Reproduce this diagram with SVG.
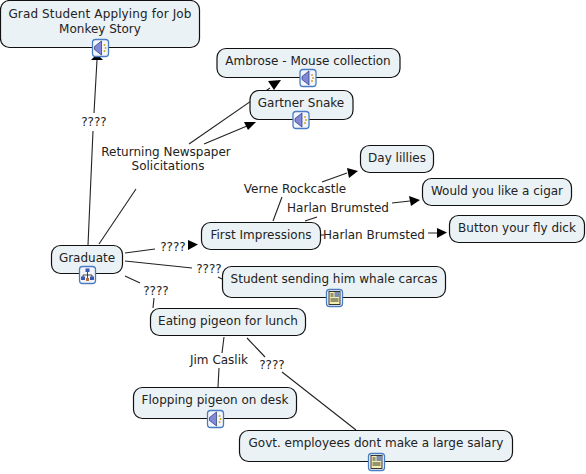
<svg xmlns="http://www.w3.org/2000/svg" width="586" height="474" viewBox="0 0 586 474">
<style>
text{font-family:"DejaVu Sans",Verdana,sans-serif;font-size:12px;fill:#222;text-anchor:middle}
.n{fill:#ebf2f5;stroke:#111;stroke-width:1.2}
.c{fill:none;stroke:#222;stroke-width:1.1}
.a{fill:#000}
.ib{fill:#f2f6fc;stroke:#4a7cc4;stroke-width:1.3}
</style>
<defs>
<g id="snd"><rect class="ib" x="-8" y="-8.500" width="16" height="17" rx="3"/><path d="M-6-1.500L1-7V7L-6 1.500Z" fill="#8088d8" stroke="#2a3270" stroke-width=".7"/><path d="M4-4v2M5-1v2M4 2v2" stroke="#d8a820" stroke-width="1.5" fill="none"/></g>
<g id="doc"><rect class="ib" x="-8" y="-8.500" width="16" height="17" rx="3"/><rect x="-5.500" y="-6.500" width="11" height="13" fill="#f4eeb0" stroke="#222" stroke-width=".9"/><rect x="0" y="-6" width="5" height="5" fill="#7a8cb0"/><path d="M-4-4H-1M-4-2H-1M-4 1H4M-4 3H4" stroke="#222" stroke-width=".9"/></g>
<g id="map"><rect class="ib" x="-8" y="-8.500" width="16" height="17" rx="3"/><path d="M0-4V5M-4.500 3V0H4.500V3" stroke="#222" fill="none" stroke-width=".8"/><rect x="-2" y="-6.500" width="4" height="3.500" fill="#3a58b0"/><rect x="-6.500" y="1.500" width="4" height="3.500" fill="#3a58b0"/><rect x="2.500" y="1.500" width="4" height="3.500" fill="#3a58b0"/><rect x="-1.500" y="3" width="3" height="3" fill="#c06a3a"/></g>
</defs>
<g id="connectors">
<path class="c" d="M88 245L93 131M94 113L97 60"/>
<path class="c" d="M99 244L136 189"/>
<path class="c" d="M189 144L270 88"/>
<path class="c" d="M204 144L247 126"/>
<path class="c" d="M125 253L155 249"/>
<path class="c" d="M125 261L192 268M218 277L222 279"/>
<path class="c" d="M125 276L140 283M154 298L153 308"/>
<path class="c" d="M273 221L282 197M322 182L347 173"/>
<path class="c" d="M305 221L317 217M392 203L410 201"/>
<path class="c" d="M320 235L324 235M428 233L437 233"/>
<path class="c" d="M224 337L222 353M219 368L218 387"/>
<path class="c" d="M247 338L265 357M282 372L356 430"/>
<path class="a" d="M91 60H103L97 54Z"/>
<path class="a" d="M281 80L268 81L274 90Z"/>
<path class="a" d="M256 122L244 122L248 130Z"/>
<path class="a" d="M198 244.500L188 240V250Z"/>
<path class="a" d="M358 171L347 168L349 178Z"/>
<path class="a" d="M420 200L409 196L411 206Z"/>
<path class="a" d="M447 232.500L437 228V238Z"/>
</g>
<g id="grad-student"><rect class="n" x="0.500" y="0.500" width="199" height="47" rx="9"/><text x="100" y="18" style="letter-spacing:.14px">Grad Student Applying for Job</text><text x="100" y="33">Monkey Story</text><use href="#snd" x="100.500" y="48"/></g>
<g id="ambrose"><rect class="n" x="217" y="48.500" width="183" height="29" rx="9"/><text x="308" y="65">Ambrose - Mouse collection</text><use href="#snd" x="308" y="78"/></g>
<g id="gartner"><rect class="n" x="250" y="90.500" width="103" height="29" rx="9"/><text x="301" y="107">Gartner Snake</text><use href="#snd" x="301" y="120"/></g>
<g id="day"><rect class="n" x="360.500" y="145.500" width="73" height="27" rx="9"/><text x="397" y="162">Day lillies</text></g>
<g id="cigar"><rect class="n" x="422.500" y="178.500" width="149" height="27" rx="9"/><text x="497" y="195">Would you like a cigar</text></g>
<g id="button"><rect class="n" x="449.500" y="215.500" width="135" height="27" rx="9"/><text x="517" y="232">Button your fly dick</text></g>
<g id="first"><rect class="n" x="201.500" y="222.500" width="119" height="27" rx="9"/><text x="261" y="239">First Impressions</text></g>
<g id="graduate"><rect class="n" x="51.500" y="245.500" width="71" height="28" rx="9"/><text x="87" y="262">Graduate</text><use href="#map" x="87.500" y="275"/></g>
<g id="whale"><rect class="n" x="222.500" y="266.500" width="223" height="31" rx="9"/><text x="334" y="283">Student sending him whale carcas</text><use href="#doc" x="334.500" y="298"/></g>
<g id="pigeon"><rect class="n" x="150.500" y="308.500" width="155" height="27" rx="9"/><text x="228" y="325">Eating pigeon for lunch</text></g>
<g id="flopping"><rect class="n" x="133.500" y="387.500" width="163" height="31" rx="9"/><text x="215" y="404">Flopping pigeon on desk</text><use href="#snd" x="215.500" y="419"/></g>
<g id="govt"><rect class="n" x="239.500" y="430.500" width="273" height="31" rx="9"/><text x="376" y="447">Govt. employees dont make a large salary</text><use href="#doc" x="376.500" y="462"/></g>
<g id="labels">
<text x="94" y="126">????</text>
<text x="166" y="156">Returning Newspaper</text>
<text x="168" y="170">Solicitations</text>
<text x="173" y="251">????</text>
<text x="209" y="273">????</text>
<text x="156" y="295">????</text>
<text x="295" y="193">Verne Rockcastle</text>
<text x="338" y="212">Harlan Brumsted</text>
<text x="374" y="239">Harlan Brumsted</text>
<text x="219" y="364">Jim Caslik</text>
<text x="272" y="369">????</text>
</g>
</svg>
